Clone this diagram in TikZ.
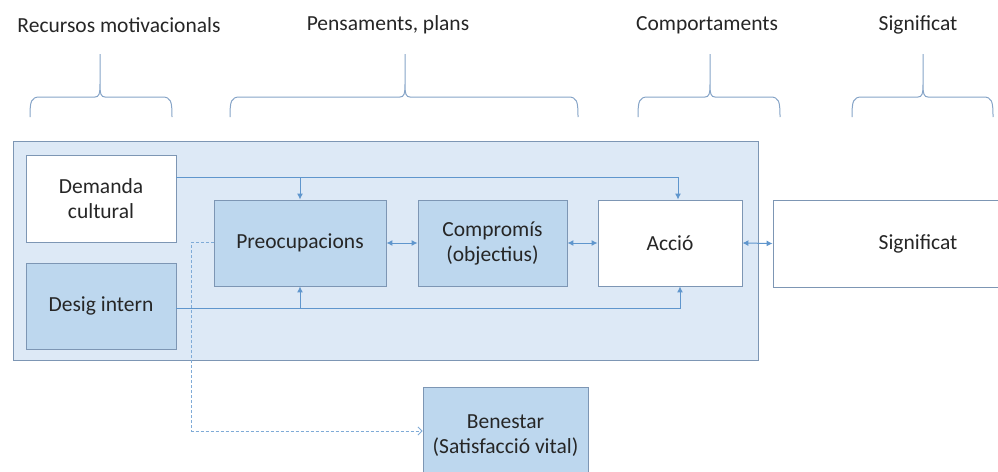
\documentclass[tikz,border=0pt]{standalone}
\usepackage{fontspec}
\setmainfont{Carlito}
\usetikzlibrary{arrows.meta}
\definecolor{bgblue}{RGB}{221,233,246}
\definecolor{boxblue}{RGB}{189,215,238}
\definecolor{edgec}{RGB}{125,150,180}
\definecolor{connc}{RGB}{95,150,205}
\definecolor{brc}{RGB}{135,165,200}
\newcommand\mybrace[3]{\draw[bracestyle] (#1,117) .. controls (#1,101) and (#1+1,97) .. (#1+10,97) -- (#2-5,97) .. controls (#2-1,97) and (#2,94) .. (#2,84) -- (#2,54) (#2,84) .. controls (#2,94) and (#2+1,97) .. (#2+5,97) -- (#3-10,97) .. controls (#3-1,97) and (#3,101) .. (#3,117);}
\begin{document}
\begin{tikzpicture}[x=1pt,y=-1pt,
  txt/.style={font=\fontsize{21.5}{25}\selectfont, text=black!85},
  box/.style={txt, draw=edgec, line width=0.9pt, align=center, inner sep=0pt},
  wbox/.style={box, fill=white},
  bbox/.style={box, fill=boxblue},
  conn/.style={draw=connc, line width=1pt},
  arr/.style={conn, -{Latex[length=6pt,width=6pt]}},
  darr/.style={conn, {Latex[length=6pt,width=6pt]}-{Latex[length=6pt,width=6pt]}},
  dasharr/.style={draw=connc!80, line width=0.9pt, dash pattern=on 3pt off 2pt, -{Straight Barb[length=4pt,width=8pt]}},
  bracestyle/.style={draw=brc, line width=1pt},
  title/.style={txt}]
\useasboundingbox (0,0) rectangle (998,471);
\clip (0,0) rectangle (998,471);
\fill[white] (0,0) rectangle (998,471);

% titles and braces
\node[title] (t1) at (119,25) {Recursos motivacionals};
\node[title] (t2) at (388,25) {Pensaments, plans};
\node[title] (t3) at (707,25) {Comportaments};
\node[title] (t4) at (918,25) {Significat};
\mybrace{30}{100}{172}
\mybrace{230}{405}{578}
\mybrace{638}{710}{780}
\mybrace{852}{923}{993}

% container
\node[draw=edgec, fill=bgblue, line width=0.9pt, minimum width=745pt, minimum height=219pt, inner sep=0pt] (cont) at (385.5,250.5) {};

% nodes
\node[wbox, minimum width=150pt, minimum height=87pt] (dem) at (101,198.5) {Demanda\\cultural};
\node[bbox, minimum width=150pt, minimum height=86pt] (des) at (101,306) {Desig intern};
\node[bbox, minimum width=172pt, minimum height=86pt] (pre) at (300,243) {Preocupacions};
\node[bbox, minimum width=149pt, minimum height=86pt] (com) at (492.5,243) {Compromís\\(objectius)};
\node[wbox, minimum width=144pt, minimum height=86pt] (acc) at (670,243) {Acció};
\node[wbox, minimum width=290pt, minimum height=87pt] (sig) at (918,243.5) {Significat};
\node[bbox, minimum width=165pt, minimum height=98pt] (ben) at (505.5,436) {Benestar\\(Satisfacció vital)};

% connectors
\coordinate (dtop) at ([yshift=21.5pt]dem.east);
\coordinate (dbot) at ([yshift=-2pt]des.east);
\draw[arr] (dtop) -| ([xshift=8pt]acc.north);
\draw[arr] (pre.north |- dtop) -- (pre.north);
\draw[arr] (dbot) -| ([xshift=10pt]acc.south);
\draw[arr] (pre.south |- dbot) -- (pre.south);
\draw[darr] (pre.east) -- (com.west);
\draw[darr] (com.east) -- (acc.west);
\draw[darr] (acc.east) -- (sig.west);
\draw[dasharr] ([yshift=1pt]pre.west) -- ++(-22,0) |- ([yshift=5pt]ben.west);
\end{tikzpicture}
\end{document}
